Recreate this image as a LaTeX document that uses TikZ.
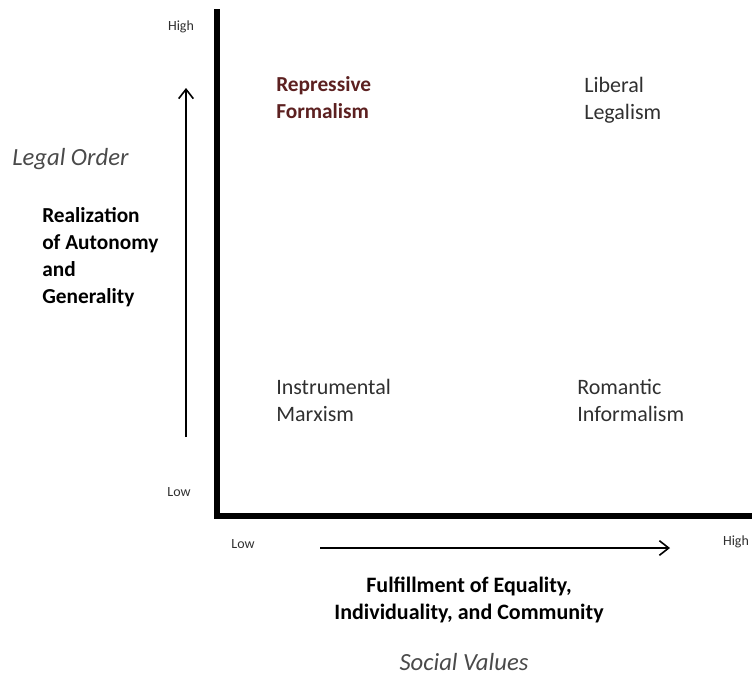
\documentclass[tikz,border=0pt]{standalone}
\usepackage{fontspec}
\setmainfont{Carlito}
\usetikzlibrary{positioning,arrows.meta}
\definecolor{inkgray}{HTML}{303030}
\definecolor{softgray}{HTML}{4A4A4A}
\definecolor{redbrown}{HTML}{5C2020}
\tikzset{>={Straight Barb[length=7pt,width=11pt,line width=1.2pt]}}
\tikzset{
  axis/.style={line width=4.5pt,line cap=rect},
  scalearrow/.style={->,line width=1.3pt},
  tick/.style={inkgray,font=\fontsize{10.5}{12}\selectfont,inner sep=0pt},
  % base of a multi-line cell is its last line
  cell/.style={inkgray,anchor=base west,align=left,inner sep=0pt,
    font=\fontsize{16.5}{20.25}\selectfont},
  factor/.style={cell,text=black,font=\fontsize{16}{20.25}\selectfont\bfseries},
  valuelabel/.style={softgray,anchor=base,inner sep=0pt,
    font=\fontsize{18.5}{22}\selectfont\itshape}
}

\begin{document}
\begin{tikzpicture}[x=0.75pt,y=-0.75pt]
\useasboundingbox (0,0) rectangle (753,675);
% corner of the two axes
\coordinate (O) at (217,516);
\coordinate (ytop) at (217,12);
\coordinate (xend) at (749,516);
\draw[axis] (ytop) -- (O) -- (xend);
% scale arrows beside the axes
\coordinate (ya) at (186,437);
\coordinate (yb) at (186,88);
\coordinate (xa) at (320,548);
\coordinate (xb) at (670,548);
\draw[scalearrow] (ya) -- (yb);
\draw[scalearrow] (xa) -- (xb);
% ends of the scales
\node[tick,anchor=base] (yhigh) at (181,30) {High};
\node[tick,anchor=base] (ylow) at (179,496) {Low};
\node[tick,anchor=base] (xlow) at (243,548) {Low};
\node[tick,anchor=base] (xhigh) at (736,545) {High};
% the four quadrants
\node[cell,text=redbrown,font=\fontsize{16}{20.25}\selectfont\bfseries] (repressive) at (276,118) {Repressive\\Formalism};
\node[cell] (liberal) at (584,119) {Liberal\\Legalism};
\node[cell] (instrumental) at (276,421) {Instrumental\\Marxism};
\node[cell] (romantic) at (577,421) {Romantic\\Informalism};
% what each axis measures
\node[valuelabel,anchor=base west] (legal) at (12,165) {Legal Order};
\node[factor] (autonomy) at (42,303) {Realization\\of Autonomy\\and\\Generality};
\node[factor,anchor=base,align=center,font=\fontsize{16.5}{20.25}\selectfont\bfseries] (equality) at (469,619) {Fulfillment of Equality,\\Individuality, and Community};
\node[valuelabel] (social) at (464,670) {Social Values};
\end{tikzpicture}
\end{document}
